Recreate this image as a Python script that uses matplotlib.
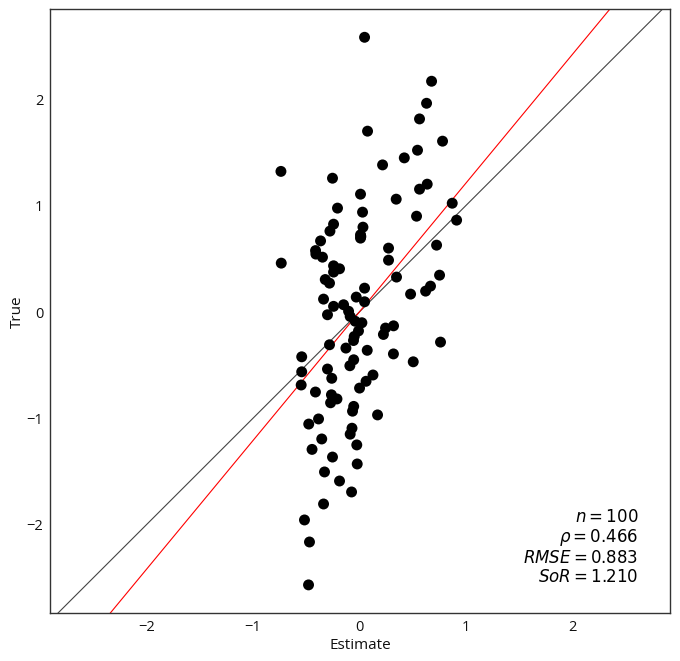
import matplotlib
matplotlib.use("Agg")
import matplotlib.pyplot as plt

estimate = [0.050, 0.679, 0.632, 0.566, 0.078, 0.782, 0.547, 0.423, 0.219, -0.735,
            -0.251, 0.638, 0.566, 0.012, 0.347, 0.873, -0.204, 0.031, 0.538, 0.914,
            -0.241, 0.035, -0.275, 0.012, 0.012, -0.363, 0.275, 0.726, -0.410, -0.407,
            -0.345, 0.275, -0.732, -0.241, -0.185, -0.241, 0.350, 0.754, -0.319, -0.279,
            0.050, 0.669, 0.623, 0.482, -0.335, -0.028, 0.050, -0.241, -0.147, -0.100,
            -0.298, -0.085, -0.038, 0.025, 0.322, 0.247, 0.227, -0.007, -0.047, -0.054,
            0.763, -0.279, -0.125, 0.075, 0.321, -0.540, -0.052, 0.507, -0.088, -0.298,
            -0.540, -0.258, 0.129, 0.064, -0.545, 0.003, -0.411, -0.261, -0.209, -0.269,
            -0.052, -0.063, 0.172, -0.382, -0.474, -0.068, -0.085, -0.352, -0.023, -0.443,
            -0.251, -0.019, -0.326, -0.185, -0.072, -0.335, -0.514, -0.467, -0.476, 0.015]
true = [2.582, 2.169, 1.962, 1.815, 1.700, 1.606, 1.521, 1.449, 1.383, 1.322,
        1.258, 1.202, 1.155, 1.108, 1.061, 1.023, 0.977, 0.939, 0.901, 0.864,
        0.826, 0.798, 0.761, 0.726, 0.695, 0.669, 0.601, 0.629, 0.578, 0.545,
        0.516, 0.488, 0.460, 0.435, 0.407, 0.376, 0.329, 0.347, 0.306, 0.272,
        0.225, 0.244, 0.197, 0.169, 0.122, 0.141, 0.097, 0.054, 0.069, 0.008,
        -0.025, -0.041, -0.086, -0.100, -0.129, -0.150, -0.210, -0.177, -0.229, -0.267,
        -0.282, -0.307, -0.338, -0.359, -0.393, -0.420, -0.448, -0.467, -0.504, -0.535,
        -0.561, -0.622, -0.591, -0.650, -0.685, -0.714, -0.751, -0.777, -0.816, -0.852,
        -0.886, -0.931, -0.966, -1.004, -1.052, -1.091, -1.147, -1.192, -1.248, -1.290,
        -1.362, -1.427, -1.502, -1.587, -1.690, -1.803, -1.953, -2.160, -2.563, 0.710]

stat_labels = [r"$n = 100$", r"$\rho = 0.466$", r"$RMSE = 0.883$", r"$SoR = 1.210$"]
sor = 1.210
xlim = (-2.90, 2.92)
ylim = (-2.83, 2.845)
xticks = [-2, -1, 0, 1, 2]
yticks = [-2, -1, 0, 1, 2]

fig = plt.figure(figsize=(6.8, 6.61), dpi=100)
ax = fig.add_axes([50.3 / 680, (661 - 613.3) / 661, 620 / 680, 604 / 661])

lo, hi = -4, 4
ax.plot([lo, hi], [lo, hi], color="#444444", lw=0.8, zorder=1)
ax.plot([lo, hi], [sor * lo, sor * hi], color="red", lw=0.8, zorder=1)
ax.scatter(estimate, true, s=62, color="black", edgecolors="none", zorder=3)

ax.set_xlim(*xlim)
ax.set_ylim(*ylim)
ax.set_xticks(xticks)
ax.set_yticks(yticks)
ax.set_xticklabels(["\u2212" + str(abs(t)) if t < 0 else str(t) for t in xticks])
ax.set_yticklabels(["\u2212" + str(abs(t)) if t < 0 else str(t) for t in yticks])
ax.tick_params(length=0, pad=5, labelsize=10.5, colors="#111111")
for lab in ax.get_xticklabels() + ax.get_yticklabels():
    lab.set_family("Open Sans")
for sp in ax.spines.values():
    sp.set_color("#333333")
    sp.set_linewidth(1.0)

ax.set_xlabel("Estimate", fontsize=11, family="Open Sans", color="#111111", labelpad=2)
ax.set_ylabel("True", fontsize=11, family="Open Sans", color="#111111", labelpad=1)

ax.text(0.948, 0.045, "\n".join(stat_labels), transform=ax.transAxes,
        ha="right", va="bottom", fontsize=12, linespacing=1.07, color="black")

fig.savefig("out.png", dpi=100)
